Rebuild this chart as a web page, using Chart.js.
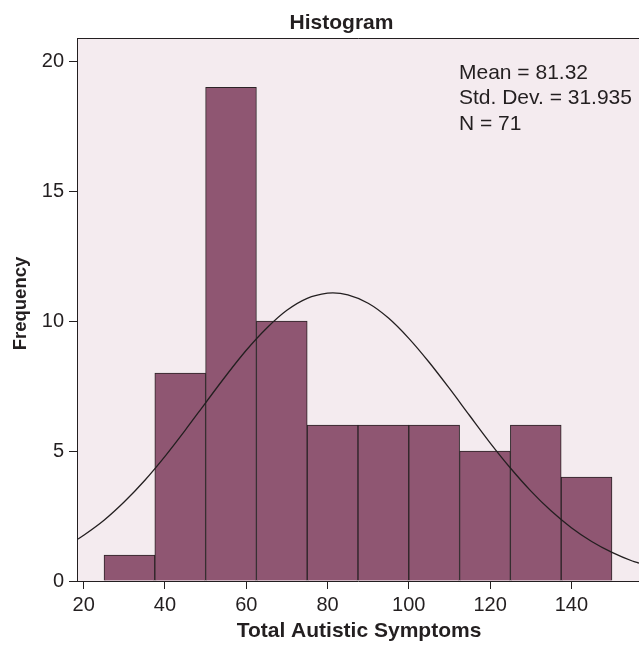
<!DOCTYPE html>
<html>
<head>
<meta charset="utf-8">
<script src="https://cdn.jsdelivr.net/npm/chart.js@4.4.1/dist/chart.umd.min.js"></script>
<style>
html, body { margin: 0; padding: 0; background: #fff; overflow: hidden; }
#wrap { position: relative; width: 639px; height: 649px; }
</style>
</head>
<body>
<div id="wrap"><canvas id="chart"></canvas></div>
<script>
// histogram bins (Total Autistic Symptoms) and counts
const binEdges = [25, 37.5, 50, 62.5, 75, 87.5, 100, 112.5, 125, 137.5, 150];
const frequencies = [1, 8, 19, 10, 6, 6, 6, 5, 6, 4];

// normal curve
const curveX = [18.35, 20, 25, 30, 35, 40, 45, 50, 55, 60, 65, 70, 75, 80, 81.32, 85, 90, 95, 100,
                105, 110, 115, 120, 125, 130, 135, 140, 145, 150, 155, 156.65];
const curveY = [1.59, 1.76, 2.34, 3.05, 3.87, 4.80, 5.81, 6.86, 7.90, 8.88, 9.73, 10.42, 10.88, 11.08, 11.09, 11.01, 10.69,
                10.12, 9.34, 8.42, 7.41, 6.36, 5.32, 4.35, 3.47, 2.70, 2.05, 1.52, 1.10, 0.77, 0.69];

const xTicks = [20, 40, 60, 80, 100, 120, 140];
const yTicks = [0, 5, 10, 15, 20];
const statsLines = ['Mean = 81.32', 'Std. Dev. = 31.935', 'N = 71'];

const FONT = "'Liberation Sans', Arial, Helvetica, sans-serif";
const INK = '#231f20';

const barData = frequencies.map((f, i) => ({ x: (binEdges[i] + binEdges[i + 1]) / 2, y: f }));
const curveData = curveX.map((x, i) => ({ x, y: curveY[i] }));

const decor = {
    id: 'decor',
    beforeDraw(chart) {
        const { ctx, chartArea: a } = chart;
        ctx.save();
        ctx.fillStyle = '#f4ebef';
        ctx.fillRect(a.left, a.top, a.right - a.left, a.bottom - a.top);
        ctx.restore();
    },
    afterDraw(chart) {
        const { ctx, chartArea: a } = chart;
        ctx.save();
        ctx.strokeStyle = INK;
        ctx.lineWidth = 1;
        ctx.beginPath();
        ctx.moveTo(a.left, a.top + 0.5);
        ctx.lineTo(a.right + 2, a.top + 0.5);
        ctx.stroke();

        ctx.fillStyle = INK;
        ctx.textBaseline = 'alphabetic';
        ctx.textAlign = 'center';
        ctx.font = 'bold 21px ' + FONT;
        ctx.fillText('Histogram', 341.5, 28.5);
        ctx.fillText('Total Autistic Symptoms', 359, 636.5);

        ctx.font = '21px ' + FONT;
        ctx.textAlign = 'left';
        statsLines.forEach((t, i) => ctx.fillText(t, 459, 78.5 + i * 25.5));

        ctx.save();
        ctx.translate(26, 303.5);
        ctx.rotate(-Math.PI / 2);
        ctx.textAlign = 'center';
        ctx.font = 'bold 18.5px ' + FONT;
        ctx.fillText('Frequency', 0, 0);
        ctx.restore();
        ctx.restore();
    }
};

new Chart(document.getElementById('chart'), {
    type: 'bar',
    data: {
        datasets: [
            {
                type: 'line',
                data: curveData,
                borderColor: INK,
                borderWidth: 1.3,
                pointRadius: 0,
                fill: false,
                cubicInterpolationMode: 'monotone',
                order: 0
            },
            {
                type: 'bar',
                data: barData,
                backgroundColor: '#8f5672',
                borderColor: '#2b2326',
                borderWidth: 1,
                barPercentage: 1,
                categoryPercentage: 1,
                order: 1
            }
        ]
    },
    options: {
        responsive: true,
        maintainAspectRatio: false,
        animation: false,
        layout: { padding: { top: 38, left: 0, right: 0, bottom: 0 } },
        plugins: {
            legend: { display: false },
            tooltip: { enabled: false }
        },
        scales: {
            x: {
                type: 'linear',
                min: 18.35,
                max: 156.65,
                offset: false,
                afterBuildTicks: s => { s.ticks = xTicks.map(v => ({ value: v })); },
                afterFit: s => { s.height = 68; },
                grid: { drawOnChartArea: false, drawTicks: true, tickLength: 8, color: INK, offset: false },
                border: { display: true, color: INK, width: 1 },
                ticks: { color: INK, font: { family: FONT, size: 20 }, padding: 4, maxRotation: 0 }
            },
            y: {
                min: 0,
                max: 20.9,
                afterBuildTicks: s => { s.ticks = yTicks.map(v => ({ value: v })); },
                afterFit: s => { s.width = 77; },
                grid: { drawOnChartArea: false, drawTicks: true, tickLength: 8, color: INK },
                border: { display: true, color: INK, width: 1 },
                ticks: { color: INK, font: { family: FONT, size: 20 }, padding: 5 }
            }
        }
    },
    plugins: [decor]
});
</script>
</body>
</html>
